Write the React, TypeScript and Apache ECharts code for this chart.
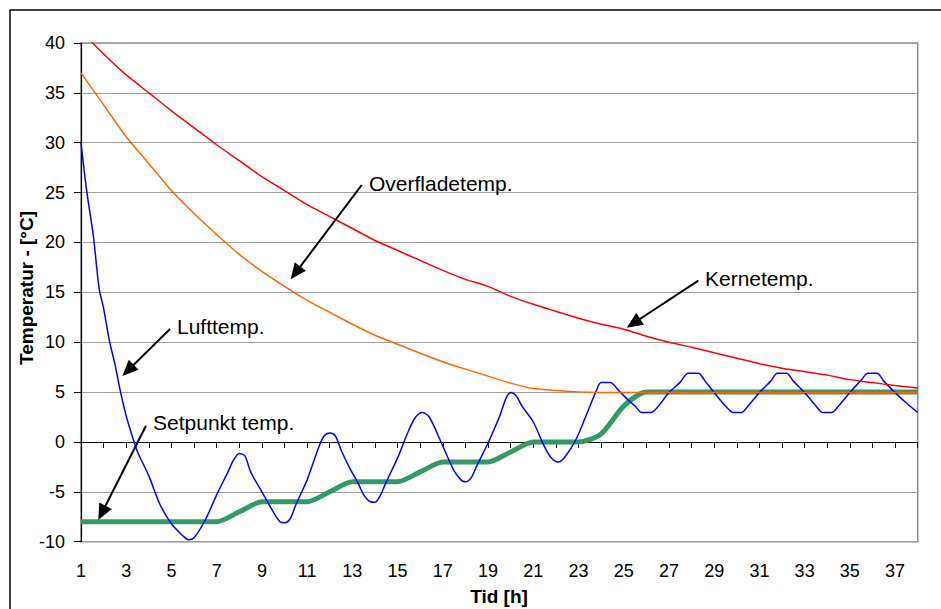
import React, { useEffect, useRef } from "react";
import * as echarts from "echarts";

// ---- Data ----
const hours = [1, 2, 3, 4, 5, 6, 7, 8, 9, 10, 11, 12, 13, 14, 15, 16, 17, 18, 19, 20, 21, 22, 23, 24, 25, 26, 27, 28, 29, 30, 31, 32, 33, 34, 35, 36, 37, 38];

const kerneTemp = [41.2, 38.9, 36.8, 35.0, 33.2, 31.5, 29.8, 28.2, 26.6, 25.2, 23.8, 22.6, 21.4, 20.2, 19.2, 18.2, 17.2, 16.3, 15.6, 14.6, 13.8, 13.1, 12.4, 11.8, 11.3, 10.6, 10.0, 9.5, 8.95, 8.4, 7.85, 7.4, 7.05, 6.7, 6.25, 5.95, 5.65, 5.4];

const overfladeTemp = [37.0, 33.8, 30.6, 27.9, 25.2, 22.9, 20.8, 18.8, 17.1, 15.6, 14.2, 13.0, 11.8, 10.7, 9.8, 8.9, 8.05, 7.3, 6.6, 5.9, 5.35, 5.15, 5.02, 4.97, 4.95, 4.95, 4.95, 4.95, 4.95, 4.95, 4.95, 4.95, 4.95, 4.95, 4.95, 4.95, 4.95, 4.95];

const setpunktTemp = [-8, -8, -8, -8, -8, -8, -8, -7, -6, -6, -6, -5, -4, -4, -4, -3, -2, -2, -2, -1, 0, 0, 0, 0.8, 3.6, 5, 5, 5, 5, 5, 5, 5, 5, 5, 5, 5, 5, 5];

const luftHours = [1.0, 1.25, 1.55, 1.8, 2.0, 2.25, 2.5, 2.75, 3.0, 3.25, 3.5, 4.0, 4.5, 5.0, 5.5, 5.75, 6.0, 6.5, 7.0, 7.5, 7.75, 8.0, 8.25, 8.5, 9.0, 9.5, 9.8, 10.0, 10.25, 10.5, 11.0, 11.5, 11.75, 12.0, 12.25, 12.5, 12.9, 13.25, 13.5, 13.8, 14.0, 14.25, 14.5, 15.0, 15.5, 15.8, 16.1, 16.4, 16.9, 17.25, 17.5, 17.8, 18.0, 18.25, 18.5, 19.0, 19.5, 19.8, 20.0, 20.25, 20.5, 21.0, 21.5, 21.8, 22.1, 22.4, 22.9, 23.4, 23.8, 24.0, 24.4, 24.8, 25.2, 25.5, 25.8, 26.2, 26.5, 27.0, 27.5, 27.85, 28.3, 28.6, 29.0, 29.5, 29.85, 30.2, 30.5, 31.0, 31.5, 31.8, 32.2, 32.5, 33.0, 33.5, 33.8, 34.2, 34.5, 35.0, 35.5, 35.8, 36.2, 36.5, 37.0, 37.5, 38.0];
const luftTemp = [30.0, 25.2, 20.6, 15.4, 13.4, 10.2, 7.8, 5.0, 2.6, 0.7, -1.0, -3.4, -6.3, -8.2, -9.4, -9.8, -9.6, -7.8, -5.3, -3.0, -1.8, -1.15, -1.4, -3.0, -5.0, -7.0, -8.0, -8.1, -7.7, -6.3, -3.8, -0.6, 0.6, 0.9, 0.6, -0.8, -2.7, -4.1, -5.3, -6.0, -6.05, -5.3, -4.0, -1.6, 1.2, 2.5, 2.95, 2.5, 0.1, -1.7, -2.9, -3.8, -4.0, -3.6, -2.4, -0.1, 2.5, 4.4, 4.95, 4.6, 3.6, 2.0, -0.5, -1.6, -2.0, -1.5, 0.3, 3.0, 5.2, 5.95, 5.95, 5.1, 4.2, 3.6, 2.95, 2.95, 3.5, 4.95, 6.0, 6.9, 6.9, 6.1, 4.95, 3.6, 2.95, 2.95, 3.6, 4.95, 6.1, 6.9, 6.9, 6.1, 4.95, 3.6, 2.95, 2.95, 3.6, 4.95, 6.2, 6.9, 6.9, 6.1, 4.95, 3.9, 2.95];

const yTicks = { min: -10, max: 40, step: 5 };
const xTicks = { min: 1, max: 38, step: 1 };

const FONT = '"Liberation Sans", Arial, sans-serif';

function arrow(x1: number, y1: number, x2: number, y2: number) {
  const L = 16;
  const W = 7;
  const dx = x2 - x1;
  const dy = y2 - y1;
  const len = Math.sqrt(dx * dx + dy * dy);
  const ux = dx / len;
  const uy = dy / len;
  const bx = x2 - ux * L;
  const by = y2 - uy * L;
  const px = -uy * W;
  const py = ux * W;
  return [
    {
      type: "line",
      z: 100,
      shape: { x1, y1, x2: bx + ux * 2, y2: by + uy * 2 },
      style: { stroke: "#000", lineWidth: 2 },
    },
    {
      type: "polygon",
      z: 100,
      shape: { points: [[x2, y2], [bx + px, by + py], [bx - px, by - py]] },
      style: { fill: "#000" },
    },
  ];
}

function label(text: string, x: number, y: number) {
  return {
    type: "text",
    z: 100,
    x,
    y,
    style: { text, fill: "#000", font: `21px ${FONT}`, align: "left", verticalAlign: "middle" },
  };
}

export default function App() {
  const ref = useRef<HTMLDivElement>(null);
  useEffect(() => {
    if (!ref.current) return;
    const chart = echarts.init(ref.current, null, { renderer: "svg" });
    const zip = (xs: number[], ys: number[]) => xs.map((x, i) => [x, ys[i]]);
    const option: any = {
      animation: false,
      backgroundColor: "#fff",
      grid: {
        left: 81,
        top: 43,
        right: 23.3,
        bottom: 67.3,
        show: true,
        borderColor: "#8c8c8c",
        borderWidth: 1.5,
        containLabel: false,
      },
      xAxis: [
        {
          type: "value",
          min: xTicks.min,
          max: xTicks.max,
          interval: xTicks.step,
          position: "bottom",
          axisLine: { show: true, onZero: true, lineStyle: { color: "#000", width: 1.2 } },
          axisTick: { show: true, length: 6, lineStyle: { color: "#000", width: 1 } },
          axisLabel: { show: false },
          splitLine: { show: false },
        },
        {
          type: "value",
          min: xTicks.min,
          max: xTicks.max,
          interval: xTicks.step,
          position: "bottom",
          axisLine: { show: false, onZero: false },
          axisTick: { show: false },
          splitLine: { show: false },
          axisLabel: {
            show: true,
            margin: 20,
            color: "#000",
            fontSize: 18,
            fontFamily: FONT,
            formatter: (v: number) => (Math.round(v) % 2 === 1 ? String(Math.round(v)) : ""),
          },
        },
      ],
      yAxis: {
        type: "value",
        min: yTicks.min,
        max: yTicks.max,
        interval: yTicks.step,
        axisLine: { show: true, onZero: false, lineStyle: { color: "#000", width: 1.2 } },
        axisTick: { show: true, length: 7, lineStyle: { color: "#000", width: 1 } },
        axisLabel: { color: "#000", fontSize: 18, fontFamily: FONT, margin: 16 },
        splitLine: { show: true, lineStyle: { color: "#a0a0a0", width: 1 } },
      },
      series: [
        {
          name: "Setpunkt temp.",
          type: "line",
          xAxisIndex: 0,
          data: zip(hours, setpunktTemp),
          showSymbol: false,
          symbol: "none",
          smooth: 0.25,
          lineStyle: { color: "#339966", width: 5 },
          z: 2,
        },
        {
          name: "Lufttemp.",
          type: "line",
          xAxisIndex: 0,
          data: zip(luftHours, luftTemp),
          showSymbol: false,
          symbol: "none",
          smooth: 0.3,
          lineStyle: { color: "#0000ff", width: 1.5 },
          z: 3,
        },
        {
          name: "Overfladetemp.",
          type: "line",
          xAxisIndex: 0,
          data: zip(hours, overfladeTemp),
          showSymbol: false,
          symbol: "none",
          smooth: 0.2,
          lineStyle: { color: "#ff6600", width: 1.5 },
          z: 4,
        },
        {
          name: "Kernetemp.",
          type: "line",
          xAxisIndex: 0,
          data: zip(hours, kerneTemp),
          showSymbol: false,
          symbol: "none",
          smooth: 0.2,
          clip: true,
          lineStyle: { color: "#ff0000", width: 1.5 },
          z: 5,
        },
      ],
      graphic: [
        {
          type: "rect",
          z: 100,
          shape: { x: 10, y: 10, width: 1200, height: 1200 },
          style: { fill: "none", stroke: "#000", lineWidth: 1.5 },
        },
        {
          type: "text",
          z: 100,
          x: 499,
          y: 596,
          style: { text: "Tid [h]", fill: "#000", font: `bold 19px ${FONT}`, align: "center", verticalAlign: "middle" },
        },
        {
          type: "text",
          z: 100,
          x: 26.5,
          y: 288,
          rotation: Math.PI / 2,
          style: { text: "Temperatur - [°C]", fill: "#000", font: `bold 19px ${FONT}`, align: "center", verticalAlign: "middle" },
        },
        label("Overfladetemp.", 369, 183),
        label("Kernetemp.", 705, 278),
        label("Lufttemp.", 177, 326.5),
        label("Setpunkt temp.", 153, 422.5),
        ...arrow(361.7, 185, 290.7, 279.3),
        ...arrow(698.3, 280.7, 626.7, 327.7),
        ...arrow(170, 329, 122.3, 376),
        ...arrow(146, 425.7, 98.3, 520),
      ],
    };
    chart.setOption(option);
    return () => chart.dispose();
  }, []);
  return (
    <div
      ref={ref}
      style={{ position: "absolute", left: 0, top: 0, width: 941, height: 609, background: "#fff" }}
    />
  );
}
